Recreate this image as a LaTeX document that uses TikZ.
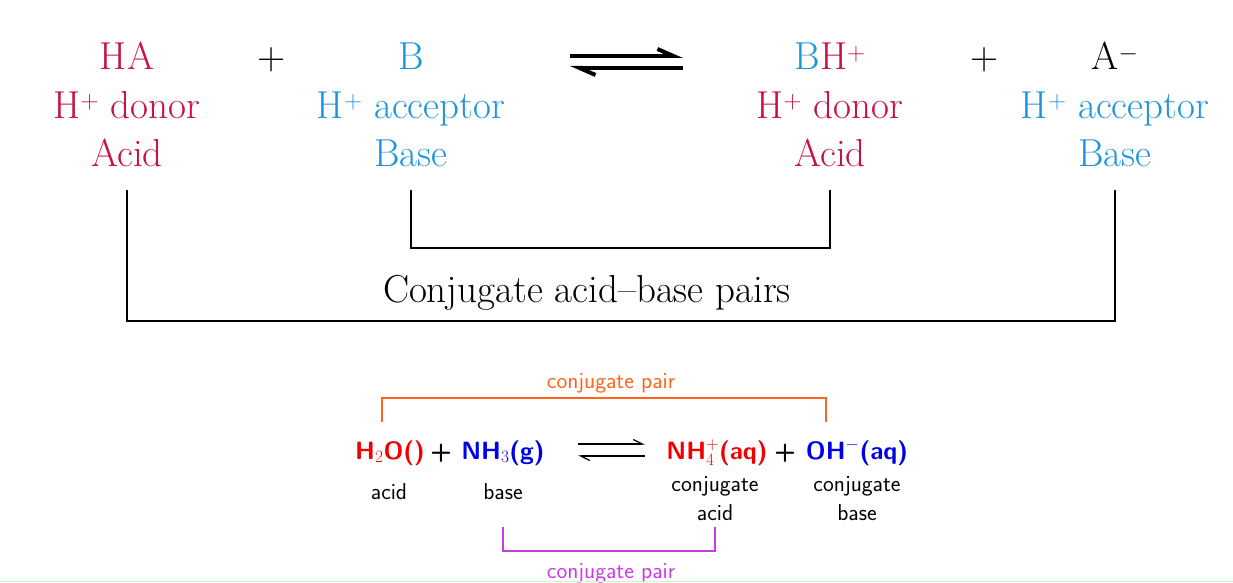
\documentclass[tikz,border=0pt]{standalone}
\usetikzlibrary{arrows.meta}
\definecolor{acidc}{RGB}{200,16,70}
\definecolor{basec}{RGB}{30,150,220}
\definecolor{ra}{RGB}{240,0,0}
\definecolor{bb}{RGB}{0,0,230}
\definecolor{org}{RGB}{255,100,30}
\definecolor{mag}{RGB}{200,60,230}
\tikzset{big/.style={font=\fontsize{39}{40}\selectfont,inner sep=0pt,anchor=base},
 sm/.style={font=\fontsize{23}{24}\selectfont\sffamily,inner sep=0pt,anchor=base},
 fm/.style={font=\fontsize{25}{26}\selectfont\sffamily\bfseries,inner sep=0pt,anchor=base}}
\begin{document}
\begin{tikzpicture}[x=1pt,y=-1pt]
\useasboundingbox (0,0) rectangle (1233,583);
% top
\node[big,acidc] (a1) at (127,70) {HA};
\node[big,acidc] (a2) at (127,118) {H$^+$ donor};
\node[big,acidc] (a3) at (127,166) {Acid};
\node[big] (p1) at (272,70) {+};
\node[big,basec] (b1) at (411,70) {B};
\node[big,basec] (b2) at (411,118) {H$^+$ acceptor};
\node[big,basec] (b3) at (411,166) {Base};
\node[big] (c1) at (830,70) {\textcolor{basec}{B}\textcolor{acidc}{H$^+$}};
\node[big,acidc] (c2) at (830,118) {H$^+$ donor};
\node[big,acidc] (c3) at (830,166) {Acid};
\node[big] (p2) at (985,70) {+};
\node[big] (d1) at (1115,70) {A$^-$};
\node[big,basec] (d2) at (1115,118) {H$^+$ acceptor};
\node[big,basec] (d3) at (1115,166) {Base};
\coordinate (e1) at (570,56); \coordinate (e2) at (683,56);
\coordinate (f1) at (683,68); \coordinate (f2) at (570,68);
\draw[line width=4pt,-{Straight Barb[left,length=16pt,width=14pt]}] (e1) -- (e2);
\draw[line width=4pt,-{Straight Barb[left,length=16pt,width=14pt]}] (f1) -- (f2);
\draw[line width=1.5pt] (411,190) -- (411,248) -- (830,248) -- (830,190);
\draw[line width=1.5pt] (127,190) -- (127,321) -- (1115,321) -- (1115,190);
\node[big] (lab) at (587,302) {Conjugate acid--base pairs};
% bottom
\node[fm,ra] (h2o) at (390,459) {H$_2$O()};
\node[fm] (p3) at (441,459) {+};
\node[fm,bb] (nh3) at (503,459) {NH$_3$(g)};
\node[fm,ra] (nh4) at (717,459) {NH$_4^+$(aq)};
\node[fm] (p4) at (785,459) {+};
\node[fm,bb] (oh) at (857,459) {OH$^-$(aq)};
\coordinate (g1) at (578,444); \coordinate (g2) at (645,444);
\coordinate (k1) at (645,456); \coordinate (k2) at (578,456);
\draw[line width=1.3pt,-{Straight Barb[left,length=9pt,width=9pt]}] (g1) -- (g2);
\draw[line width=1.3pt,-{Straight Barb[left,length=9pt,width=9pt]}] (k1) -- (k2);
\node[sm] (l1) at (389,499) {acid};
\node[sm] (l2) at (503,499) {base};
\node[sm] (l3) at (715,491) {conjugate};
\node[sm] (l4) at (715,520) {acid};
\node[sm] (l5) at (857,491) {conjugate};
\node[sm] (l6) at (857,520) {base};
\draw[org,line width=1.5pt] (382,422) -- (382,398) -- (826,398) -- (826,422);
\node[sm,org] (o) at (611,388) {conjugate pair};
\draw[mag,line width=1.5pt] (503,527) -- (503,551) -- (715,551) -- (715,527);
\node[sm,mag] (m) at (611,578) {conjugate pair};
\draw[black!15!green!20,line width=1pt] (0,581) -- (1233,581);
\end{tikzpicture}
\end{document}
